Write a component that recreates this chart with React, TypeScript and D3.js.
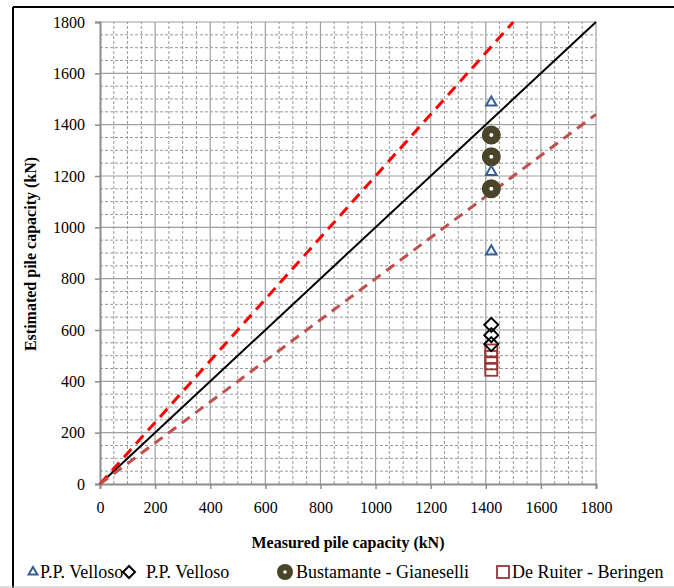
import React, { useEffect, useRef } from 'react';
import * as d3 from 'd3';

// measured vs estimated pile capacity (kN)
const measured = 1420;
const velosoTriangle = [1490, 1220, 910];
const velosoDiamond = [620, 580, 545];
const bustamante = [1360, 1275, 1150];
const deRuiter = [520, 495, 470, 445];

const ticks = [0, 200, 400, 600, 800, 1000, 1200, 1400, 1600, 1800];
const minorTicks = d3.range(0, 1801, 50);

// reference lines y = k * x
const refLines = [
  { k: 1.0, color: '#000000', width: 2, dash: null },
  { k: 1.2, color: '#FF0000', width: 3, dash: '11,7' },
  { k: 0.8, color: '#C0504D', width: 3, dash: '10,7' },
];

const legendItems = [
  { label: 'P.P. Velloso', kind: 'triangle', x: 33, tx: 40 },
  { label: 'P.P. Velloso', kind: 'diamond', x: 129, tx: 146 },
  { label: 'Bustamante - Gianeselli', kind: 'circle', x: 285, tx: 296 },
  { label: 'De Ruiter - Beringen', kind: 'square', x: 503, tx: 512 },
];

const W = 674;
const H = 588;
const font = 'Liberation Serif, Tinos, DejaVu Serif, serif';

const App = () => {
  const svgRef = useRef<SVGSVGElement>(null);

  useEffect(() => {
    document.body.style.margin = '0';
    const svg = d3.select(svgRef.current);
    svg.selectAll('*').remove();

    const x = d3.scaleLinear().domain([0, 1800]).range([100, 596]);
    const y = d3.scaleLinear().domain([0, 1800]).range([484, 22]);

    svg.append('rect').attr('width', W).attr('height', H).attr('fill', '#fff');

    // frame (cut at right / bottom like the source)
    svg.append('line').attr('x1', 13).attr('x2', W).attr('y1', 7).attr('y2', 7)
      .attr('stroke', '#000').attr('stroke-width', 2);
    svg.append('line').attr('x1', 13).attr('x2', 13).attr('y1', 7).attr('y2', H)
      .attr('stroke', '#000').attr('stroke-width', 2);
    svg.append('line').attr('x1', 0).attr('x2', W).attr('y1', 587).attr('y2', 587)
      .attr('stroke', '#bbb').attr('stroke-width', 1);

    const grid = svg.append('g');
    // minor dashed grid
    minorTicks.filter(v => v % 200 !== 0).forEach((v) => {
      grid.append('line').attr('x1', x(v)).attr('x2', x(v)).attr('y1', y(0)).attr('y2', y(1800))
        .attr('stroke', '#999').attr('stroke-width', 1).attr('stroke-dasharray', '3,2');
      grid.append('line').attr('x1', x(0)).attr('x2', x(1800)).attr('y1', y(v)).attr('y2', y(v))
        .attr('stroke', '#999').attr('stroke-width', 1).attr('stroke-dasharray', '3,2');
    });
    // major grid
    ticks.filter(v => v > 0).forEach((v) => {
      grid.append('line').attr('x1', x(v)).attr('x2', x(v)).attr('y1', y(0)).attr('y2', y(1800))
        .attr('stroke', '#a0a0a0').attr('stroke-width', 1.2);
      grid.append('line').attr('x1', x(0)).attr('x2', x(1800)).attr('y1', y(v)).attr('y2', y(v))
        .attr('stroke', '#a0a0a0').attr('stroke-width', 1.2);
    });

    // axes
    const xAxis = svg.append('g').attr('transform', `translate(0,${y(0)})`)
      .call(d3.axisBottom(x).tickValues(ticks).tickSize(5).tickPadding(13).tickFormat(d3.format('d')));
    const yAxis = svg.append('g').attr('transform', `translate(${x(0)},0)`)
      .call(d3.axisLeft(y).tickValues(ticks).tickSize(5).tickPadding(10).tickFormat(d3.format('d')));
    [xAxis, yAxis].forEach((a) => {
      a.attr('font-family', font).attr('font-size', 16);
      a.select('.domain').attr('stroke', '#8c8c8c').attr('stroke-width', 2);
      a.selectAll('.tick line').attr('stroke', '#8c8c8c').attr('stroke-width', 1.5);
      a.selectAll('.tick text').attr('fill', '#000');
    });

    // reference lines
    const clip = svg.append('clipPath').attr('id', 'plotclip');
    clip.append('rect').attr('x', x(0) - 2).attr('y', y(1800) - 2)
      .attr('width', x(1800) - x(0) + 4).attr('height', y(0) - y(1800) + 4);
    const line = d3.line<[number, number]>().x(d => x(d[0])).y(d => y(d[1]));
    refLines.forEach((r) => {
      const xEnd = Math.min(1800, 1800 / r.k);
      const p = svg.append('path')
        .attr('d', line([[0, 0], [xEnd, xEnd * r.k]]))
        .attr('fill', 'none').attr('stroke', r.color).attr('stroke-width', r.width)
        .attr('clip-path', 'url(#plotclip)');
      if (r.dash) p.attr('stroke-dasharray', r.dash);
    });

    const tri = d3.symbol().type(d3.symbolTriangle).size(48);
    const marks = svg.append('g');

    deRuiter.forEach((v) => {
      marks.append('rect').attr('x', x(measured) - 6).attr('y', y(v) - 6)
        .attr('width', 12).attr('height', 12)
        .attr('fill', 'none').attr('stroke', '#953735').attr('stroke-width', 1.8);
    });
    velosoDiamond.forEach((v) => {
      marks.append('path')
        .attr('d', `M0,-7L7,0L0,7L-7,0Z`)
        .attr('transform', `translate(${x(measured)},${y(v)})`)
        .attr('fill', 'none').attr('stroke', '#000').attr('stroke-width', 2);
    });
    bustamante.forEach((v) => {
      marks.append('circle').attr('cx', x(measured)).attr('cy', y(v)).attr('r', 9.5)
        .attr('fill', '#4A452A');
      marks.append('circle').attr('cx', x(measured)).attr('cy', y(v)).attr('r', 2)
        .attr('fill', '#fff');
    });
    velosoTriangle.forEach((v) => {
      marks.append('path').attr('d', tri)
        .attr('transform', `translate(${x(measured)},${y(v) + 1})`)
        .attr('fill', 'none').attr('stroke', '#376092').attr('stroke-width', 2);
    });

    // axis titles
    svg.append('text').attr('x', 348).attr('y', 548).attr('text-anchor', 'middle')
      .attr('font-family', font).attr('font-size', 16).attr('font-weight', 'bold')
      .text('Measured pile capacity (kN)');
    svg.append('text').attr('transform', `translate(36,254) rotate(-90)`).attr('text-anchor', 'middle')
      .attr('font-family', font).attr('font-size', 16).attr('font-weight', 'bold')
      .text('Estimated pile capacity (kN)');

    // legend
    const ly = 572;
    const lg = svg.append('g');
    legendItems.forEach((it) => {
      if (it.kind === 'triangle') {
        lg.append('path').attr('d', d3.symbol().type(d3.symbolTriangle).size(34)())
          .attr('transform', `translate(${it.x},${ly})`)
          .attr('fill', 'none').attr('stroke', '#376092').attr('stroke-width', 2);
      } else if (it.kind === 'diamond') {
        lg.append('path').attr('d', 'M0,-6L6,0L0,6L-6,0Z')
          .attr('transform', `translate(${it.x},${ly})`)
          .attr('fill', 'none').attr('stroke', '#000').attr('stroke-width', 2);
      } else if (it.kind === 'circle') {
        lg.append('circle').attr('cx', it.x).attr('cy', ly).attr('r', 8).attr('fill', '#4A452A');
        lg.append('circle').attr('cx', it.x).attr('cy', ly).attr('r', 1.8).attr('fill', '#fff');
      } else {
        lg.append('rect').attr('x', it.x - 6).attr('y', ly - 6).attr('width', 12).attr('height', 12)
          .attr('fill', 'none').attr('stroke', '#953735').attr('stroke-width', 1.8);
      }
      lg.append('text').attr('x', it.tx).attr('y', ly + 6)
        .attr('font-family', font).attr('font-size', 18).attr('fill', '#000')
        .text(it.label);
    });
  }, []);

  return <svg ref={svgRef} width={W} height={H} style={{ display: 'block' }} />;
};

export default App;
